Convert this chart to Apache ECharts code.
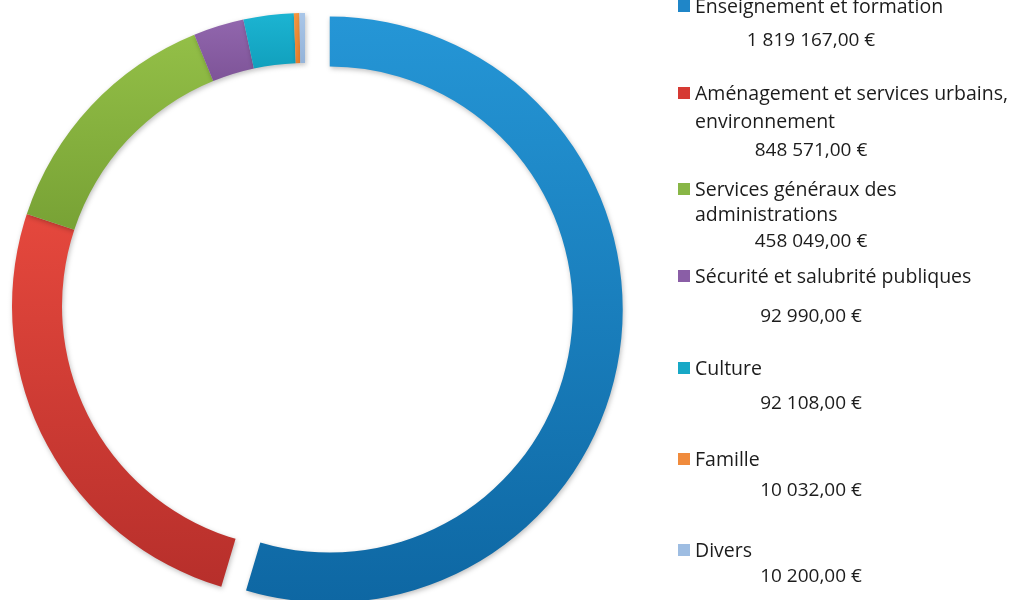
<!DOCTYPE html>
<html>
<head>
<meta charset="utf-8">
<script src="https://cdn.jsdelivr.net/npm/echarts@6/dist/echarts.min.js"></script>
<style>
html,body{margin:0;padding:0;background:#fff;}
#c{width:1009px;height:600px;}
</style>
</head>
<body>
<div id="c"></div>
<script>
// ---- data ----
var categories = [
  "Enseignement et formation",
  "Aménagement et services urbains, environnement",
  "Services généraux des administrations",
  "Sécurité et salubrité publiques",
  "Culture",
  "Famille",
  "Divers"
];
var legendLines = [
  ["Enseignement et formation"],
  ["Aménagement et services urbains,", "environnement"],
  ["Services généraux des", "administrations"],
  ["Sécurité et salubrité publiques"],
  ["Culture"],
  ["Famille"],
  ["Divers"]
];
var values = [1819167, 848571, 458049, 92990, 92108, 10032, 10200];

// ---- styles ----
var colorsTop = ["#2596d6", "#e5483d", "#93bf47", "#9166ad", "#1cb4d2", "#f5963f", "#a9c6e8"];
var colorsBot = ["#0e67a3", "#b72f2b", "#78a235", "#7e5498", "#11a0bd", "#e9802e", "#94b3d9"];
var legendIcon = ["#1f86c8", "#d63a33", "#88b646", "#8a5ea6", "#17a8c6", "#f08b3c", "#9ebde2"];
// baselines of legend name lines and value lines
var nameBaselines = [[13], [100, 128], [196, 221], [283], [375], [466], [557]];
var valueBaselines = [47, 157, 248, 323, 410, 497, 583];

function fmt(v) {
  var s = String(v).replace(/\B(?=(\d{3})+(?!\d))/g, "\u00a0");
  return s + ",00\u00a0€";
}

var nameFont = '19.5px "Open Sans", sans-serif';
var valueFont = '19px "Open Sans", sans-serif';
var graphics = [];
for (var i = 0; i < categories.length; i++) {
  var nb = nameBaselines[i];
  graphics.push({
    type: 'rect', shape: {x: 678, y: nb[0] - 13, width: 12, height: 12},
    style: {fill: legendIcon[i]}, silent: true
  });
  for (var k = 0; k < legendLines[i].length; k++) {
    graphics.push({
      type: 'text', x: 695, y: nb[k] - 6,
      style: {text: legendLines[i][k], font: nameFont, fill: '#1c1c1c', verticalAlign: 'middle', align: 'left'},
      silent: true
    });
  }
  graphics.push({
    type: 'text', x: 811, y: valueBaselines[i] - 6,
    style: {text: fmt(values[i]), font: valueFont, fill: '#1c1c1c', verticalAlign: 'middle', align: 'center'},
    silent: true
  });
}

var seriesData = categories.map(function (c, i) {
  return {
    name: c, value: values[i], selected: i === 0,
    itemStyle: {
      color: {type: 'linear', x: 0, y: 0, x2: 0, y2: 1,
        colorStops: [{offset: 0, color: colorsTop[i]}, {offset: 1, color: colorsBot[i]}]}
    }
  };
});

var chart = echarts.init(document.getElementById('c'));
chart.setOption({
  animation: false,
  backgroundColor: '#ffffff',
  graphic: graphics,
  series: [{
    type: 'pie',
    center: [305, 306],
    radius: [243, 293],
    startAngle: 90,
    clockwise: true,
    selectedMode: 'single',
    selectedOffset: 25,
    label: {show: false},
    labelLine: {show: false},
    emphasis: {disabled: true},
    itemStyle: {
      borderWidth: 0,
      shadowBlur: 5,
      shadowColor: 'rgba(0,0,0,0.25)',
      shadowOffsetX: 1,
      shadowOffsetY: 2
    },
    data: seriesData
  }]
});
</script>
</body>
</html>
